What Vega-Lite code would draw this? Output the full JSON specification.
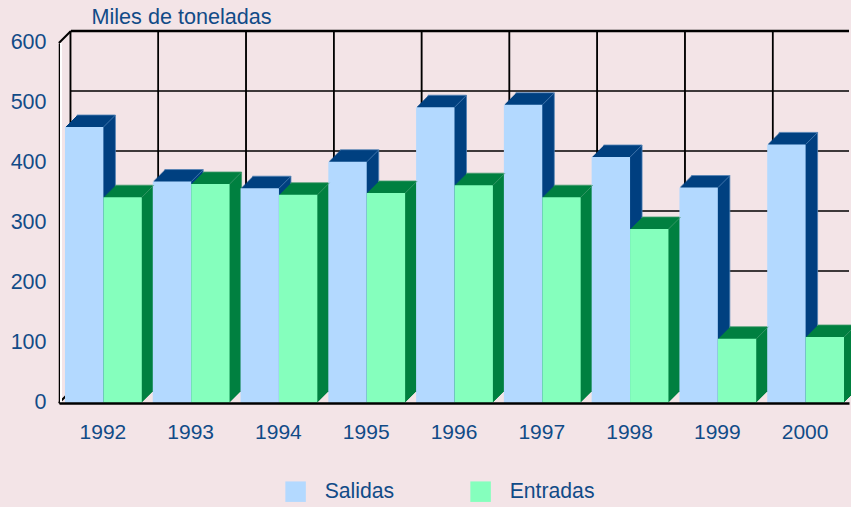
{"$schema":"https://vega.github.io/schema/vega-lite/v6.json","width":790,"height":360,"autosize":{"type":"none"},"padding":{"left":59,"top":43,"right":2,"bottom":104},"background":"#f3e4e7","config":{"view":{"stroke":null},"font":"Liberation Sans"},
"datasets":{"bars":[
{"anio":"1992","serie":"Salidas","valor":460},{"anio":"1992","serie":"Entradas","valor":343},
{"anio":"1993","serie":"Salidas","valor":369},{"anio":"1993","serie":"Entradas","valor":365},
{"anio":"1994","serie":"Salidas","valor":358},{"anio":"1994","serie":"Entradas","valor":347},
{"anio":"1995","serie":"Salidas","valor":402},{"anio":"1995","serie":"Entradas","valor":350},
{"anio":"1996","serie":"Salidas","valor":493},{"anio":"1996","serie":"Entradas","valor":363},
{"anio":"1997","serie":"Salidas","valor":497},{"anio":"1997","serie":"Entradas","valor":343},
{"anio":"1998","serie":"Salidas","valor":410},{"anio":"1998","serie":"Entradas","valor":290},
{"anio":"1999","serie":"Salidas","valor":359},{"anio":"1999","serie":"Entradas","valor":107},
{"anio":"2000","serie":"Salidas","valor":431},{"anio":"2000","serie":"Entradas","valor":110}],
"grid":[{"v":0},{"v":100},{"v":200},{"v":300},{"v":400},{"v":500},{"v":600}]},
"data":{"name":"bars"},
"encoding":{
"x":{"field":"anio","type":"nominal","scale":{"paddingInner":0.125,"paddingOuter":0.0625},"axis":{"title":null,"domainColor":"#000000","domainWidth":2.5,"ticks":false,"labelAngle":0,"labelFontSize":21,"labelColor":"#114b87","labelPadding":18,"zindex":1}},
"y":{"field":"valor","type":"quantitative","scale":{"domain":[0,600],"nice":false},"axis":{"title":"Miles de toneladas","titleAngle":0,"titleAlign":"left","titleBaseline":"middle","titleX":32,"titleY":-26,"titleFontSize":21.6,"titleFontWeight":"normal","titleColor":"#114b87","values":[0,100,200,300,400,500,600],"grid":false,"ticks":false,"domainColor":"#000000","domainWidth":1.5,"labelFontSize":21.5,"labelColor":"#114b87","labelPadding":13,"labelBaseline":"middle","labelOffset":-1}}},
"layer":[
{"data":{"name":"grid"},"mark":{"type":"rule","color":"#000000","strokeWidth":1.5,"xOffset":12,"yOffset":-12},"encoding":{"x":{"value":0},"x2":{"value":790},"y":{"field":"v","type":"quantitative"}}},
{"data":{"values":[{"v":600}]},"mark":{"type":"rule","color":"#000000","strokeWidth":2.5,"xOffset":12,"yOffset":-12},"encoding":{"x":{"value":0},"x2":{"value":790},"y":{"field":"v","type":"quantitative"}}},
{"mark":{"type":"rule","color":"#000000","strokeWidth":1.5,"xOffset":6,"yOffset":-12,"y2Offset":-12},"encoding":{"x":{"field":"anio","type":"nominal","bandPosition":0},"y":{"datum":0},"y2":{"datum":600}}},
{"data":{"values":[{"anio":"1992"}]},"mark":{"type":"rule","color":"#000000","strokeWidth":2.5,"xOffset":6,"yOffset":-12,"y2Offset":-12},"encoding":{"x":{"field":"anio","type":"nominal","bandPosition":0},"y":{"datum":0},"y2":{"datum":600}}},
{"data":{"values":[{"anio":"1992","v":0},{"anio":"1992","v":600}]},"mark":{"type":"point","shape":"M-44,0L-32,-12","size":4,"filled":false,"stroke":"#000000","strokeWidth":2,"opacity":1},"encoding":{"x":{"field":"anio","type":"nominal"},"y":{"field":"v","type":"quantitative"}}},
{"mark":{"type":"rule","color":"#ffffff","strokeWidth":1,"xOffset":2},"encoding":{"x":{"value":0},"y":{"datum":0},"y2":{"datum":600}}},
{"mark":{"type":"bar","yOffset":-12,"y2Offset":-12,"strokeWidth":0.8},"encoding":{"xOffset":{"field":"serie","sort":["Salidas","Entradas"],"scale":{"range":[12.5,89.3]}},"fill":{"field":"serie","scale":{"domain":["Salidas","Entradas"],"range":["#004080","#008040"]},"legend":null},"stroke":{"field":"serie","scale":{"domain":["Salidas","Entradas"],"range":["#4f82b5","#40996c"]},"legend":null}}},
{"mark":{"type":"bar","yOffset":-11,"y2Offset":-11},"encoding":{"xOffset":{"field":"serie","sort":["Salidas","Entradas"],"scale":{"range":[11.5,88.3]}},"fill":{"field":"serie","scale":{"domain":["Salidas","Entradas"],"range":["#004080","#008040"]},"legend":null}}},
{"mark":{"type":"bar","yOffset":-10,"y2Offset":-10},"encoding":{"xOffset":{"field":"serie","sort":["Salidas","Entradas"],"scale":{"range":[10.5,87.3]}},"fill":{"field":"serie","scale":{"domain":["Salidas","Entradas"],"range":["#004080","#008040"]},"legend":null}}},
{"mark":{"type":"bar","yOffset":-9,"y2Offset":-9},"encoding":{"xOffset":{"field":"serie","sort":["Salidas","Entradas"],"scale":{"range":[9.5,86.3]}},"fill":{"field":"serie","scale":{"domain":["Salidas","Entradas"],"range":["#004080","#008040"]},"legend":null}}},
{"mark":{"type":"bar","yOffset":-8,"y2Offset":-8},"encoding":{"xOffset":{"field":"serie","sort":["Salidas","Entradas"],"scale":{"range":[8.5,85.3]}},"fill":{"field":"serie","scale":{"domain":["Salidas","Entradas"],"range":["#004080","#008040"]},"legend":null}}},
{"mark":{"type":"bar","yOffset":-7,"y2Offset":-7},"encoding":{"xOffset":{"field":"serie","sort":["Salidas","Entradas"],"scale":{"range":[7.5,84.3]}},"fill":{"field":"serie","scale":{"domain":["Salidas","Entradas"],"range":["#004080","#008040"]},"legend":null}}},
{"mark":{"type":"bar","yOffset":-6,"y2Offset":-6},"encoding":{"xOffset":{"field":"serie","sort":["Salidas","Entradas"],"scale":{"range":[6.5,83.3]}},"fill":{"field":"serie","scale":{"domain":["Salidas","Entradas"],"range":["#004080","#008040"]},"legend":null}}},
{"mark":{"type":"bar","yOffset":-5,"y2Offset":-5},"encoding":{"xOffset":{"field":"serie","sort":["Salidas","Entradas"],"scale":{"range":[5.5,82.3]}},"fill":{"field":"serie","scale":{"domain":["Salidas","Entradas"],"range":["#004080","#008040"]},"legend":null}}},
{"mark":{"type":"bar","yOffset":-4,"y2Offset":-4},"encoding":{"xOffset":{"field":"serie","sort":["Salidas","Entradas"],"scale":{"range":[4.5,81.3]}},"fill":{"field":"serie","scale":{"domain":["Salidas","Entradas"],"range":["#004080","#008040"]},"legend":null}}},
{"mark":{"type":"bar","yOffset":-3,"y2Offset":-3},"encoding":{"xOffset":{"field":"serie","sort":["Salidas","Entradas"],"scale":{"range":[3.5,80.3]}},"fill":{"field":"serie","scale":{"domain":["Salidas","Entradas"],"range":["#004080","#008040"]},"legend":null}}},
{"mark":{"type":"bar","yOffset":-2,"y2Offset":-2},"encoding":{"xOffset":{"field":"serie","sort":["Salidas","Entradas"],"scale":{"range":[2.5,79.3]}},"fill":{"field":"serie","scale":{"domain":["Salidas","Entradas"],"range":["#004080","#008040"]},"legend":null}}},
{"mark":{"type":"bar","yOffset":-1,"y2Offset":-1},"encoding":{"xOffset":{"field":"serie","sort":["Salidas","Entradas"],"scale":{"range":[1.5,78.3]}},"fill":{"field":"serie","scale":{"domain":["Salidas","Entradas"],"range":["#004080","#008040"]},"legend":null}}},
{"mark":{"type":"bar"},"encoding":{"xOffset":{"field":"serie","sort":["Salidas","Entradas"],"scale":{"range":[0.5,77.3]}},"fill":{"field":"serie","scale":{"domain":["Salidas","Entradas"],"range":["#b3d9ff","#85ffbd"]},"legend":{"title":null,"orient":"none","legendX":226,"legendY":438,"direction":"horizontal","columns":2,"symbolType":"square","symbolSize":420,"symbolStrokeWidth":0,"labelFontSize":21.2,"labelColor":"#114b87","labelOffset":18.5,"columnPadding":75,"gridAlign":"each"}}}},
{"mark":{"type":"point","shape":"M19.8,0L31.8,-12","size":4,"filled":false,"strokeWidth":0.8,"opacity":1},"encoding":{"xOffset":{"field":"serie","sort":["Salidas","Entradas"],"scale":{"range":[0,76.8]}},"stroke":{"field":"serie","scale":{"domain":["Salidas","Entradas"],"range":["#4f82b5","#40996c"]},"legend":null}}}
],
"resolve":{"scale":{"fill":"independent","stroke":"independent","xOffset":"independent"}}}
